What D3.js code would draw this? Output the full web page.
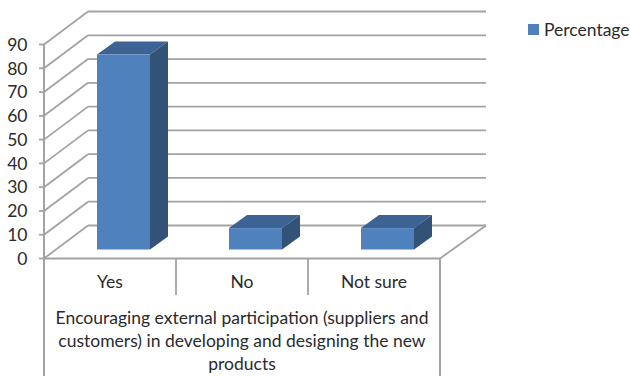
<!DOCTYPE html>
<html>
<head>
<meta charset="utf-8">
<script src="https://cdn.jsdelivr.net/npm/d3@7"></script>
<style>
  html, body { margin: 0; padding: 0; background: #fff; }
  svg { display: block; }
  text { font-family: Lato, "Open Sans", sans-serif; fill: #2b2b2b; }
</style>
</head>
<body>
<svg id="chart" width="630" height="376"></svg>
<script>
const categories = ["Yes", "No", "Not sure"];
const percentages = [82, 9, 9];
const yTicks = [0, 10, 20, 30, 40, 50, 60, 70, 80, 90];
const seriesName = "Percentage";
const axisTitleLines = [
  "Encouraging external participation (suppliers and",
  "customers) in developing and designing the new",
  "products"
];

const svg = d3.select("#chart");

// Front plane of the plot box, plus the oblique offset to its back wall.
const plot = { left: 44, right: 440, bottom: 258.5, top: 44.5 };
const depth = { x: 44, y: -33 };
const barDepth = { x: 18, y: -13 };
const barInset = { x: 12, y: -9 };
const labelSize = 17.5;

const x = d3.scaleBand().domain(categories).range([plot.left, plot.right]).paddingInner(0).paddingOuter(0);
const y = d3.scaleLinear().domain([0, 90]).range([plot.bottom, plot.top]);

const gridColor = "#a3a3a3";
const line = (x1, y1, x2, y2, w = 1.8) =>
  svg.append("line").attr("x1", x1).attr("y1", y1).attr("x2", x2).attr("y2", y2)
    .attr("stroke", gridColor).attr("stroke-width", w);

// Gridlines: a slanted run along the side wall, then across the back wall.
yTicks.forEach(t => {
  const yy = y(t);
  line(plot.left, yy, plot.left + depth.x, yy + depth.y);
  line(plot.left + depth.x, yy + depth.y, plot.right + depth.x + 2, yy + depth.y);
  line(plot.left - 5, yy, plot.left, yy);
});

// Right edge of the floor.
line(plot.right, plot.bottom, plot.right + depth.x + 2, plot.bottom + depth.y);

// Front axis lines and the category table below the floor.
line(plot.left, plot.top, plot.left, 376, 2);
line(plot.left, plot.bottom, plot.right, plot.bottom, 2);
line(plot.right, plot.bottom, plot.right, 376, 2);
categories.slice(1).forEach(c => line(x(c), plot.bottom, x(c), 295));

// Each bar is a front face, a top face and a side face.
const barWidth = 53;
const bars = svg.append("g").selectAll("g")
  .data(categories.map((c, i) => ({ c, v: percentages[i] })))
  .join("g");

const frontX = d => x(d.c) + (x.bandwidth() - barWidth) / 2 + barInset.x + 1.5;
const frontTop = d => y(d.v) + barInset.y;
const frontBottom = () => y(0) + barInset.y;

bars.append("polygon")
  .attr("fill", "#3c6394")
  .attr("points", d => {
    const l = frontX(d), r = l + barWidth, t = frontTop(d);
    return [[l, t], [r, t], [r + barDepth.x, t + barDepth.y], [l + barDepth.x, t + barDepth.y]].join(" ");
  });

bars.append("polygon")
  .attr("fill", "#325278")
  .attr("points", d => {
    const r = frontX(d) + barWidth, t = frontTop(d), b = frontBottom();
    return [[r, t], [r + barDepth.x, t + barDepth.y], [r + barDepth.x, b + barDepth.y], [r, b]].join(" ");
  });

bars.append("rect")
  .attr("fill", "#4f81bd")
  .attr("x", frontX)
  .attr("y", frontTop)
  .attr("width", barWidth)
  .attr("height", d => frontBottom() - frontTop(d));

// Value axis labels.
svg.append("g").selectAll("text")
  .data(yTicks)
  .join("text")
  .attr("x", 27.5)
  .attr("y", d => y(d))
  .attr("dy", "0.36em")
  .attr("text-anchor", "end")
  .attr("font-size", labelSize)
  .text(d => d);

// Category labels.
svg.append("g").selectAll("text")
  .data(categories)
  .join("text")
  .attr("x", d => x(d) + x.bandwidth() / 2)
  .attr("y", 288)
  .attr("text-anchor", "middle")
  .attr("font-size", labelSize)
  .text(d => d);

// Wrapped multi-level category caption.
svg.append("g").selectAll("text")
  .data(axisTitleLines)
  .join("text")
  .attr("x", 242)
  .attr("y", (d, i) => 324 + i * 23)
  .attr("text-anchor", "middle")
  .attr("font-size", labelSize)
  .text(d => d);

// Legend.
svg.append("rect").attr("x", 528).attr("y", 24).attr("width", 11).attr("height", 11).attr("fill", "#4f81bd");
svg.append("text").attr("x", 544).attr("y", 35.5).attr("font-size", labelSize).text(seriesName);
</script>
</body>
</html>
